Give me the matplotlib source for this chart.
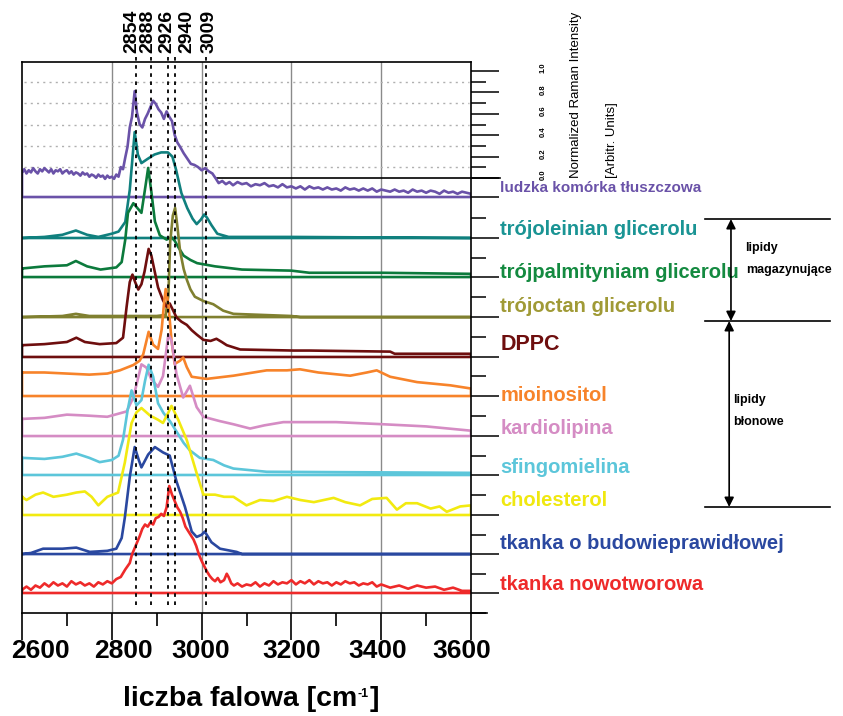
import numpy as np
import matplotlib.pyplot as plt
import matplotlib.transforms as mtransforms

plt.rcParams['font.family'] = ['Liberation Sans', 'DejaVu Sans']

# --- widma (liczba falowa [cm-1], intensywnosc znormalizowana) ---
komorka_x = [2600, 2605, 2610, 2615, 2620, 2625, 2630, 2635, 2640, 2645, 2650, 2655, 2660,
             2665, 2670, 2675, 2680, 2685, 2690, 2695, 2700, 2705, 2710, 2715, 2720, 2725,
             2730, 2735, 2740, 2745, 2750, 2755, 2760, 2765, 2770, 2775, 2780, 2785, 2790,
             2795, 2800, 2805, 2810, 2815, 2820, 2825, 2830, 2835, 2840, 2845, 2851, 2856,
             2862, 2868, 2874, 2880, 2886, 2892, 2898, 2904, 2910, 2916, 2922, 2928, 2934,
             2940, 2946, 2952, 2960, 2968, 2976, 2984, 2992, 3000, 3008, 3016, 3024, 3032,
             3038, 3046, 3054, 3062, 3070, 3080, 3090, 3100, 3110, 3120, 3130, 3140, 3150,
             3160, 3170, 3180, 3190, 3200, 3210, 3220, 3230, 3240, 3250, 3260, 3270, 3280,
             3290, 3300, 3310, 3320, 3330, 3340, 3350, 3360, 3370, 3380, 3390, 3400, 3410,
             3420, 3430, 3440, 3450, 3460, 3470, 3480, 3490, 3500, 3510, 3520, 3530, 3540,
             3550, 3560, 3570, 3580, 3590, 3600]
komorka_y = [0.23, 0.26, 0.22, 0.25, 0.23, 0.27, 0.24, 0.22, 0.26, 0.24, 0.27, 0.25, 0.23,
             0.26, 0.22, 0.25, 0.24, 0.26, 0.22, 0.24, 0.25, 0.22, 0.24, 0.21, 0.23, 0.22,
             0.20, 0.23, 0.21, 0.22, 0.19, 0.21, 0.20, 0.18, 0.21, 0.19, 0.20, 0.17, 0.20,
             0.18, 0.19, 0.17, 0.21, 0.19, 0.28, 0.26, 0.37, 0.47, 0.65, 0.75, 0.99, 0.79,
             0.68, 0.65, 0.73, 0.78, 0.84, 0.90, 0.87, 0.82, 0.79, 0.73, 0.80, 0.75, 0.71,
             0.58, 0.51, 0.47, 0.41, 0.36, 0.31, 0.30, 0.28, 0.25, 0.27, 0.24, 0.22, 0.17,
             0.13, 0.15, 0.12, 0.14, 0.11, 0.14, 0.12, 0.13, 0.10, 0.12, 0.11, 0.13, 0.10,
             0.11, 0.09, 0.12, 0.09, 0.10, 0.08, 0.10, 0.07, 0.10, 0.08, 0.09, 0.07, 0.09,
             0.07, 0.08, 0.06, 0.09, 0.07, 0.08, 0.06, 0.08, 0.06, 0.08, 0.05, 0.07, 0.06,
             0.05, 0.07, 0.05, 0.06, 0.04, 0.07, 0.05, 0.06, 0.04, 0.06, 0.05, 0.03, 0.06,
             0.04, 0.05, 0.03, 0.05, 0.04, 0.03]

trioleina_x = [2600, 2650, 2690, 2720, 2745, 2770, 2800, 2815, 2830, 2840, 2851, 2858, 2866,
               2880, 2895, 2910, 2925, 2935, 2943, 2955, 2968, 2980, 2989, 2998, 3006, 3012,
               3022, 3035, 3060, 3200, 3600]
trioleina_y = [0.00, 0.01, 0.03, 0.07, 0.03, 0.01, 0.04, 0.06, 0.15, 0.45, 0.99, 0.78, 0.70,
               0.74, 0.78, 0.80, 0.80, 0.76, 0.64, 0.42, 0.28, 0.18, 0.13, 0.17, 0.22, 0.19,
               0.12, 0.04, 0.01, 0.01, 0.00]

tripalmityna_x = [2600, 2650, 2700, 2720, 2745, 2775, 2810, 2822, 2830, 2836, 2848, 2858, 2866,
                  2875, 2881, 2888, 2896, 2907, 2922, 2933, 2940, 2948, 2960, 2975, 2990, 3030,
                  3090, 3200, 3240, 3400, 3600]
tripalmityna_y = [0.08, 0.10, 0.11, 0.15, 0.10, 0.07, 0.09, 0.14, 0.35, 0.60, 0.69, 0.64, 0.60,
                  0.85, 1.02, 0.80, 0.52, 0.39, 0.35, 0.37, 0.34, 0.28, 0.20, 0.16, 0.13, 0.10,
                  0.07, 0.06, 0.04, 0.04, 0.03]

triacetyna_x = [2600, 2690, 2720, 2750, 2800, 2900, 2920, 2926, 2930, 2936, 2941, 2946, 2952,
                2960, 2967, 2975, 2985, 3004, 3026, 3048, 3071, 3200, 3220, 3600]
triacetyna_y = [0.00, 0.01, 0.03, 0.01, 0.01, 0.01, 0.02, 0.20, 0.70, 0.95, 1.02, 0.85, 0.62,
                0.45, 0.35, 0.26, 0.19, 0.15, 0.12, 0.06, 0.03, 0.01, 0.00, 0.00]

dppc_x = [2600, 2650, 2700, 2721, 2740, 2773, 2810, 2825, 2833, 2840, 2846, 2852, 2859, 2866,
          2873, 2882, 2888, 2892, 2903, 2914, 2922, 2929, 2936, 2944, 2955, 2967, 2978, 2989,
          3004, 3020, 3033, 3045, 3056, 3086, 3205, 3240, 3420, 3430, 3600]
dppc_y = [0.11, 0.12, 0.14, 0.18, 0.14, 0.12, 0.13, 0.18, 0.47, 0.70, 0.77, 0.70, 0.63, 0.68,
          0.80, 1.01, 0.95, 0.87, 0.65, 0.53, 0.47, 0.50, 0.44, 0.37, 0.33, 0.30, 0.25, 0.21,
          0.16, 0.15, 0.17, 0.14, 0.11, 0.07, 0.06, 0.06, 0.05, 0.03, 0.03]

mioinozytol_x = [2600, 2650, 2700, 2750, 2790, 2818, 2848, 2862, 2870, 2882, 2892, 2903, 2911,
                 2916, 2920, 2926, 2933, 2940, 2952, 2959, 2967, 2978, 3011, 3071, 3145, 3190,
                 3219, 3260, 3331, 3368, 3390, 3420, 3480, 3554, 3600]
mioinozytol_y = [0.22, 0.22, 0.21, 0.20, 0.21, 0.24, 0.29, 0.33, 0.39, 0.60, 0.48, 0.44, 0.62,
                 0.85, 1.00, 0.86, 0.52, 0.30, 0.33, 0.36, 0.27, 0.18, 0.16, 0.19, 0.24, 0.24,
                 0.25, 0.22, 0.19, 0.22, 0.24, 0.18, 0.13, 0.10, 0.07]

kardiolipina_x = [2600, 2650, 2700, 2750, 2790, 2833, 2848, 2866, 2877, 2888, 2903, 2914, 2926,
                  2933, 2944, 2959, 2974, 2989, 3004, 3040, 3071, 3108, 3140, 3182, 3300, 3405,
                  3500, 3600]
kardiolipina_y = [0.16, 0.17, 0.20, 0.19, 0.18, 0.23, 0.36, 0.67, 0.64, 0.53, 0.46, 0.56, 0.95,
                  0.89, 0.58, 0.36, 0.47, 0.27, 0.18, 0.14, 0.11, 0.07, 0.10, 0.13, 0.13, 0.11,
                  0.09, 0.05]

sfingomielina_x = [2600, 2650, 2690, 2721, 2750, 2773, 2800, 2815, 2825, 2835, 2844, 2855, 2866,
                   2874, 2882, 2892, 2903, 2915, 2930, 2945, 2960, 2974, 2996, 3026, 3050, 3071,
                   3145, 3600]
sfingomielina_y = [0.16, 0.15, 0.17, 0.20, 0.16, 0.12, 0.14, 0.18, 0.33, 0.60, 0.79, 0.65, 0.70,
                   0.88, 1.03, 0.92, 0.67, 0.58, 0.50, 0.40, 0.30, 0.23, 0.16, 0.14, 0.09, 0.06,
                   0.03, 0.02]

cholesterol_x = [2600, 2610, 2630, 2647, 2670, 2700, 2721, 2740, 2755, 2770, 2790, 2814, 2829,
                 2844, 2855, 2866, 2885, 2903, 2914, 2925, 2933, 2948, 2967, 2989, 3004, 3030,
                 3050, 3071, 3100, 3130, 3160, 3190, 3220, 3250, 3294, 3320, 3353, 3380, 3412,
                 3435, 3455, 3480, 3510, 3530, 3546, 3576, 3600]
cholesterol_y = [0.17, 0.14, 0.19, 0.21, 0.17, 0.19, 0.21, 0.22, 0.17, 0.09, 0.17, 0.21, 0.49,
                 0.86, 0.96, 1.00, 0.93, 0.89, 0.86, 0.95, 1.02, 0.89, 0.70, 0.39, 0.19, 0.19,
                 0.17, 0.17, 0.09, 0.14, 0.13, 0.17, 0.14, 0.12, 0.16, 0.12, 0.09, 0.15, 0.16,
                 0.05, 0.11, 0.11, 0.06, 0.08, 0.03, 0.08, 0.09]

prawidlowa_x = [2600, 2620, 2647, 2690, 2721, 2751, 2790, 2810, 2822, 2829, 2840, 2851, 2860,
                2866, 2881, 2896, 2914, 2929, 2944, 2963, 2978, 2989, 3000, 3007, 3022, 3041,
                3078, 3090, 3600]
prawidlowa_y = [0.00, 0.01, 0.05, 0.05, 0.06, 0.02, 0.03, 0.05, 0.15, 0.34, 0.72, 1.00, 0.88,
                0.81, 0.93, 1.00, 0.95, 0.92, 0.68, 0.44, 0.21, 0.16, 0.18, 0.21, 0.11, 0.05,
                0.02, 0.00, 0.00]

nowotwor_x = [2600, 2610, 2620, 2630, 2640, 2650, 2660, 2670, 2680, 2690, 2700, 2710, 2720,
              2730, 2740, 2750, 2760, 2770, 2780, 2790, 2800, 2810, 2820, 2830, 2840, 2845,
              2851, 2856, 2862, 2868, 2874, 2880, 2886, 2892, 2898, 2904, 2910, 2916, 2922,
              2928, 2934, 2940, 2946, 2952, 2958, 2964, 2970, 2976, 2982, 2988, 2994, 3000,
              3006, 3012, 3018, 3024, 3030, 3036, 3042, 3050, 3056, 3060, 3066, 3072, 3080,
              3090, 3100, 3110, 3120, 3130, 3140, 3150, 3160, 3170, 3180, 3190, 3200, 3210,
              3220, 3230, 3240, 3250, 3260, 3270, 3280, 3290, 3300, 3310, 3320, 3330, 3340,
              3350, 3360, 3370, 3380, 3390, 3400, 3420, 3440, 3460, 3480, 3500, 3520, 3540,
              3560, 3580, 3600]
nowotwor_y = [0.03, 0.06, 0.03, 0.07, 0.05, 0.09, 0.06, 0.10, 0.07, 0.09, 0.06, 0.11, 0.08,
              0.10, 0.07, 0.09, 0.06, 0.10, 0.08, 0.11, 0.09, 0.13, 0.15, 0.22, 0.28, 0.36,
              0.42, 0.47, 0.53, 0.60, 0.64, 0.62, 0.66, 0.64, 0.70, 0.71, 0.74, 0.72, 0.80,
              1.00, 0.92, 0.86, 0.80, 0.76, 0.70, 0.62, 0.58, 0.54, 0.50, 0.44, 0.36, 0.30,
              0.25, 0.20, 0.16, 0.13, 0.11, 0.14, 0.10, 0.12, 0.18, 0.15, 0.09, 0.07, 0.09,
              0.06, 0.08, 0.07, 0.10, 0.06, 0.09, 0.07, 0.11, 0.08, 0.10, 0.09, 0.12, 0.08,
              0.11, 0.09, 0.12, 0.08, 0.11, 0.09, 0.10, 0.07, 0.10, 0.08, 0.11, 0.09, 0.10,
              0.07, 0.09, 0.08, 0.10, 0.06, 0.08, 0.05, 0.07, 0.04, 0.07, 0.05, 0.06, 0.03,
              0.05, 0.02, 0.02]

# podpisy widm (od gory)
nazwy = ['ludzka komórka tłuszczowa', 'trójoleinian glicerolu', 'trójpalmityniam glicerolu',
         'trójoctan glicerolu', 'DPPC', 'mioinositol', 'kardiolipina', 'sfingomielina',
         'cholesterol', 'tkanka o budowieprawidłowej', 'tkanka nowotworowa']

# charakterystyczne pasma
pasma = [2854, 2888, 2926, 2940, 3009]

# os x i skala intensywnosci
xticki = [2600, 2800, 3000, 3200, 3400, 3600]
skala_etykiety = ['0.0', '0.2', '0.4', '0.6', '0.8', '1.0']


def main():
    widma = [(komorka_x, komorka_y), (trioleina_x, trioleina_y),
             (tripalmityna_x, tripalmityna_y), (triacetyna_x, triacetyna_y),
             (dppc_x, dppc_y), (mioinozytol_x, mioinozytol_y),
             (kardiolipina_x, kardiolipina_y), (sfingomielina_x, sfingomielina_y),
             (cholesterol_x, cholesterol_y), (prawidlowa_x, prawidlowa_y),
             (nowotwor_x, nowotwor_y)]
    kolory = ['#6a52a8', '#10807e', '#0c7a3c', '#808030', '#6e0e0e', '#f7832a',
              '#d58cc4', '#5cc6da', '#f2ea10', '#2a48a0', '#ee2a2a']
    kolory_napisow = ['#6a52a8', '#1a9494', '#148a40', '#a09a36', '#6e0e0e', '#f7832a',
                      '#d58cc4', '#5cc6da', '#f0e810', '#2a48a0', '#ee2a2a']
    # przesuniecia linii bazowych i wysokosci podpisow
    przesuniecia = [3.888, 3.505, 3.140, 2.766, 2.393, 2.028, 1.654, 1.290, 0.916, 0.551, 0.187]
    podpis_y = [3.975, 3.589, 3.187, 2.869, 2.514, 2.037, 1.720, 1.364, 1.047, 0.654, 0.271]
    rozmiary = [11, 14.5, 14.5, 14.5, 15.5, 14.5, 14.5, 14.5, 14.5, 14.5, 14.5]

    fig = plt.figure(figsize=(8.43, 7.16), dpi=100)
    ax = fig.add_axes([22 / 843, 103 / 716, 449 / 843, 551 / 716])
    ax.set_xlim(2600, 3600)
    ax.set_ylim(0, 5.15)

    # siatka pionowa
    for x in [2800, 3000, 3200, 3400]:
        ax.axvline(x, color='#8a8a8a', lw=1.0, zorder=0)
    # kropkowana siatka skali intensywnosci
    for y in [4.165, 4.365, 4.565, 4.765, 4.965]:
        ax.plot([2605, 3595], [y, y], color='#b0b0b0', lw=1.0,
                ls=(0, (1.5, 3)), zorder=0)
    ax.plot([3035, 3665], [4.065, 4.065], color='black', lw=1.2, clip_on=False, zorder=1)

    for (x, y), off, kol in zip(widma, przesuniecia, kolory):
        x = np.asarray(x, float)
        y = np.asarray(y, float)
        xs = np.concatenate([x, [x[-1], x[0], x[0]]])
        ys = np.concatenate([y + off, [off, off, off + y[0]]])
        ax.plot(xs, ys, color=kol, lw=1.9, zorder=2)

    # linie charakterystycznych pasm
    etykiety_x = [2845, 2881, 2923, 2967, 3016]
    for p, ex in zip(pasma, etykiety_x):
        ax.plot([p, p], [0.075, 5.215], color='black', lw=1.3, ls=(0, (2, 2.5)),
                clip_on=False, zorder=3)
        ax.text(ex, 5.234, str(p), rotation=90, ha='center', va='bottom',
                fontsize=14, fontweight='bold')

    # podpisy widm
    for nazwa, yy, kol, fs in zip(nazwy, podpis_y, kolory_napisow, rozmiary):
        ax.text(3665, yy, nazwa, color=kol, fontsize=fs, fontweight='bold',
                ha='left', va='center', clip_on=False)

    # osie
    for s in ax.spines.values():
        s.set_color('black')
        s.set_linewidth(1.2)
    ax.set_xticks(xticki)
    ax.set_xticks([2700, 2900, 3100, 3300, 3500], minor=True)
    ax.tick_params(axis='x', which='major', length=19.5, width=1.2, labelbottom=False)
    ax.tick_params(axis='x', which='minor', length=9.5, width=1.2)
    ax.plot([3600, 3635], [0, 0], color='black', lw=1.2, clip_on=False)
    trans = mtransforms.blended_transform_factory(ax.transData, ax.transAxes)
    pozycje = [2640, 2825, 2999, 3201, 3391, 3580]
    for v, px in zip(xticki, pozycje):
        ax.text(px, -0.069, str(v), transform=trans, ha='center', va='center',
                fontsize=19, fontweight='bold')

    skala = [4.065, 4.265, 4.465, 4.665, 4.865, 5.065]
    srodki = [0.0] + [(a + b) / 2 for a, b in zip(przesuniecia[1:], przesuniecia[:-1])]
    ax.yaxis.tick_right()
    ax.set_yticks(sorted(przesuniecia + skala))
    ax.set_yticks(sorted(srodki + [4.165, 4.365, 4.565, 4.765, 4.965]), minor=True)
    ax.tick_params(axis='y', which='major', length=20.5, width=1.1, labelright=False)
    ax.tick_params(axis='y', which='minor', length=11, width=1.1, labelright=False)

    # opis osi x z indeksem gornym
    t1 = fig.text(123 / 843, 10 / 716, 'liczba falowa [cm', fontsize=20.5,
                  fontweight='bold', va='baseline', ha='left')
    t2 = ax.annotate('-1', xy=(1, 1), xycoords=t1, xytext=(0.5, -1.5),
                     textcoords='offset points', fontsize=9, fontweight='bold',
                     ha='left', va='top')
    ax.annotate(']', xy=(1, 0), xycoords=(t2, t1), xytext=(0.5, 0),
                textcoords='offset points', fontsize=20.5, fontweight='bold',
                ha='left', va='bottom')

    # skala intensywnosci
    for v, y in zip(skala_etykiety, skala):
        ax.text(3760, y + 0.03, v, rotation=90, ha='center', va='center', fontsize=5.5,
                fontweight='bold', clip_on=False)
    ax.text(3834, 4.065, 'Normalized Raman Intensity', rotation=90, ha='center',
            va='bottom', fontsize=9.5, clip_on=False)
    ax.text(3914, 4.065, '[Arbitr. Units]', rotation=90, ha='center', va='bottom',
            fontsize=9.5, clip_on=False)

    # klamry grup lipidow
    for y in [3.682, 2.729, 0.991]:
        ax.plot([4121, 4400], [y, y], color='black', lw=1.2, clip_on=False)
    for xa, y0, y1 in [(4179, 3.682, 2.729), (4175, 2.729, 0.991)]:
        ax.annotate('', xy=(xa, y0), xytext=(xa, y1), annotation_clip=False,
                    arrowprops=dict(arrowstyle='<|-|>', color='black', lw=1.2,
                                    mutation_scale=14, shrinkA=0, shrinkB=0))
    ax.text(4210, 3.411, 'lipidy', fontsize=9, fontweight='bold', va='center')
    ax.text(4212, 3.206, 'magazynujące', fontsize=9, fontweight='bold', va='center')
    ax.text(4183, 1.991, 'lipidy', fontsize=9, fontweight='bold', va='center')
    ax.text(4183, 1.785, 'błonowe', fontsize=9, fontweight='bold', va='center')

    fig.savefig('out.png', dpi=100)


if __name__ == '__main__':
    main()
